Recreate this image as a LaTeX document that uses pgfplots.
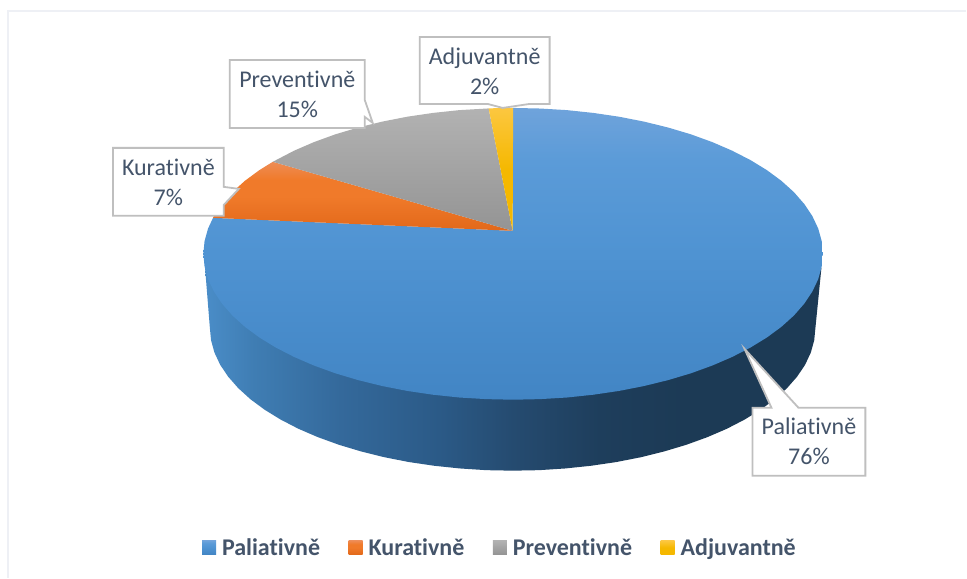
\documentclass[border=0pt]{standalone}
\usepackage{pgfplots}
\usepackage{fontspec}
\pgfplotsset{compat=1.18}
\setmainfont[Ligatures=NoCommon]{Carlito}
\definecolor{txt}{HTML}{44546A}
\definecolor{box}{HTML}{BFBFBF}
\definecolor{frame}{HTML}{EEF0F5}
\definecolor{sa}{HTML}{4A8DC8}\definecolor{sb}{HTML}{3F7DB3}\definecolor{sc}{HTML}{34699B}
\definecolor{sd}{HTML}{2B5A87}\definecolor{se}{HTML}{254B70}\definecolor{sf}{HTML}{1E3E5C}\definecolor{sg}{HTML}{1C3A55}
\definecolor{ba}{HTML}{6FA3DB}\definecolor{bb}{HTML}{5B9BD8}\definecolor{bc}{HTML}{4F93D2}\definecolor{bd}{HTML}{4285C4}
\definecolor{oa}{HTML}{EE8C55}\definecolor{ob}{HTML}{F07A2A}\definecolor{oc}{HTML}{E2681A}
\definecolor{ga}{HTML}{B2B2B2}\definecolor{gb}{HTML}{949494}
\definecolor{ya}{HTML}{FCC740}\definecolor{yb}{HTML}{F5B800}
\pgfdeclarehorizontalshading{sideshade}{100bp}{color(0bp)=(sa);color(25bp)=(sa);color(29bp)=(sb);color(36bp)=(sc);color(44bp)=(sd);color(50bp)=(se);color(57bp)=(sf);color(64bp)=(sg);color(100bp)=(sg)}
\pgfdeclareverticalshading{blueshade}{100bp}{color(0bp)=(bd);color(25bp)=(bd);color(50bp)=(bc);color(66bp)=(bb);color(75bp)=(ba);color(100bp)=(ba)}
\pgfdeclareverticalshading{orangeshade}{100bp}{color(0bp)=(oc);color(25bp)=(oc);color(50bp)=(ob);color(62bp)=(ob);color(75bp)=(oa);color(100bp)=(oa)}
\pgfdeclareverticalshading{grayshade}{100bp}{color(0bp)=(gb);color(25bp)=(gb);color(75bp)=(ga);color(100bp)=(ga)}
\pgfdeclareverticalshading{yellowshade}{100bp}{color(0bp)=(yb);color(25bp)=(yb);color(50bp)=(yb);color(75bp)=(ya);color(100bp)=(ya)}
\begin{document}
\begin{tikzpicture}
\begin{axis}[
  scale only axis, width=967pt, height=578pt,
  xmin=0, xmax=967, ymin=0, ymax=578, y dir=reverse,
  hide axis, clip=false,
  legend columns=4,
  legend style={at={(axis cs:202,548)}, anchor=west, draw=none, fill=none,
    font=\fontsize{24}{26}\selectfont\bfseries, text=txt, inner sep=0pt,
    /tikz/every even column/.append style={column sep=22.5pt},
    /tikz/every odd column/.append style={column sep=0pt},
    nodes={inner xsep=6pt, inner ysep=2pt}},
  legend image code/.code={\path[#1] (0pt,-7pt) rectangle (14pt,7pt);},
]
% background
\addplot[forget plot, draw=none, fill=white] coordinates {(0,0) (967,0) (967,578) (0,578)} \closedcycle;
\addplot[forget plot, color=frame, line width=1.4pt] coordinates {(8,578) (8,11) (967,11)};
% side wall
\addplot[forget plot, draw=none, shade, shading=sideshade] coordinates {
(822,268) (816,328) (814.8,340.5) (811.4,352.8) (805.7,365) (797.7,376.9) (787.6,388.4) (775.4,399.5) (761.2,410) (745.1,419.9) (727.3,429.1) (707.8,437.5) (686.8,445.1) (664.5,451.8) (641.1,457.6) (616.6,462.4) (591.4,466.1) (565.6,468.8) (539.4,470.5) (513,471)
(486.6,470.5) (460.4,468.8) (434.6,466.1) (409.4,462.4) (384.9,457.6) (361.5,451.8) (339.2,445.1) (318.2,437.5) (298.7,429.1) (280.9,419.9) (264.8,410) (250.6,399.5) (238.4,388.4) (228.3,376.9) (220.3,365) (214.6,352.8) (211.2,340.5) (210,328) (205.2,268)
} -- cycle;
% Paliativně 76 %
\addplot[draw=none, shade, shading=blueshade] coordinates {
(513,231) (513.5,108) (540.5,108.6) (567.3,110.2) (593.7,113) (619.5,116.8) (644.5,121.7) (668.5,127.6) (691.3,134.4) (712.8,142.2) (732.7,150.8) (751,160.2) (767.5,170.3) (782,181) (794.5,192.3) (804.8,204.1) (812.9,216.2) (818.8,228.7) (822.3,241.3) (823.5,254) (822.3,266.7) (818.8,279.3) (812.9,291.8) (804.8,303.9) (794.5,315.7) (782,327) (767.5,337.7) (751,347.8) (732.7,357.2) (712.8,365.8) (691.3,373.6) (668.5,380.4) (644.5,386.3) (619.5,391.2) (593.7,395) (567.3,397.8) (540.5,399.4) (513.5,400)
(486.5,399.4) (459.7,397.8) (433.3,395) (407.5,391.2) (382.5,386.3) (358.5,380.4) (335.7,373.6) (314.2,365.8) (294.3,357.2) (276,347.8) (259.5,337.7) (245,327) (232.5,315.7) (222.2,303.9) (214.1,291.8) (208.2,279.3) (204.7,266.7) (203.5,254) (204.7,241.3) (208.2,228.7) (213.2,218)
} -- cycle;
\addlegendentry{Paliativně}
% Kurativně 7 %
\addplot[draw=none, shade, shading=orangeshade] coordinates {
(513,231) (213.2,218) (214.1,216.2) (222.2,204.1) (232.5,192.3) (245,181) (259.5,170.3) (273,161.9)
} -- cycle;
\addlegendentry{Kurativně}
% Preventivně 15 %
\addplot[draw=none, shade, shading=grayshade] coordinates {
(513,231) (273,161.9) (294.3,150.8) (314.2,142.2) (335.7,134.4) (358.5,127.6) (382.5,121.7) (407.5,116.8) (433.3,113) (459.7,110.2) (489,108.5)
} -- cycle;
\addlegendentry{Preventivně}
% Adjuvantně 2 %
\addplot[draw=none, shade, shading=yellowshade] coordinates {
(513,231) (489,108.5) (500,108.1) (513.5,108)
} -- cycle;
\addlegendentry{Adjuvantně}
% callouts
\addplot[forget plot, draw=box, fill=white, line width=1.8pt] coordinates {
(420,37) (550,37) (550,104) (530,104) (503,108) (488,104) (420,104)} -- cycle;
\addplot[forget plot, draw=box, fill=white, line width=1.8pt] coordinates {
(230,60) (365,60) (365,100) (373,123) (365,117) (365,128) (230,128)} -- cycle;
\addplot[forget plot, draw=box, fill=white, line width=1.8pt] coordinates {
(113,148) (224,148) (224,187) (239,189) (224,205) (224,216) (113,216)} -- cycle;
\addplot[forget plot, draw=box, fill=white, line width=1.8pt] coordinates {
(753,408) (772,408) (745,349) (799,408) (866,408) (866,476) (753,476)} -- cycle;
\node[text=txt, align=center, inner sep=0pt, font=\fontsize{24}{30}\selectfont] at (axis cs:485,71) {Adjuvantně\\2\%};
\node[text=txt, align=center, inner sep=0pt, font=\fontsize{24}{30}\selectfont] at (axis cs:297.5,94) {Preventivně\\15\%};
\node[text=txt, align=center, inner sep=0pt, font=\fontsize{24}{30}\selectfont] at (axis cs:168.5,182) {Kurativně\\7\%};
\node[text=txt, align=center, inner sep=0pt, font=\fontsize{24}{30}\selectfont] at (axis cs:809.5,442) {Paliativně\\76\%};
\end{axis}
\end{tikzpicture}
\end{document}
